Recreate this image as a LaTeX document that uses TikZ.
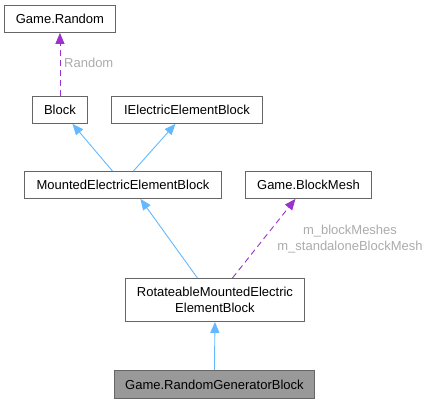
\documentclass[tikz,border=0pt]{standalone}
\usepackage{fontspec}
\setmainfont{Liberation Sans}
\usetikzlibrary{arrows.meta}
\definecolor{edgeblue}{HTML}{63B8FF}
\definecolor{edgepurple}{HTML}{9A32CD}
\definecolor{boxborder}{HTML}{666666}
\definecolor{lblgray}{HTML}{ABABAB}
\definecolor{curfill}{HTML}{999999}
\tikzset{
  cls/.style={draw=boxborder, line width=0.9pt, fill=white, inner sep=0pt, anchor=north west, font=\fontsize{13}{15.5}\selectfont, align=center},
  curcls/.style={cls, fill=curfill},
  inherit/.style={draw=edgeblue, line width=0.9pt, -{Triangle[length=11pt,width=9pt]}},
  uses/.style={draw=edgepurple, line width=0.9pt, dash pattern=on 6pt off 4pt, -{Triangle[length=11pt,width=9pt]}},
  lbl/.style={text=lblgray, font=\fontsize{13}{16}\selectfont, align=center, inner sep=0pt}
}
\begin{document}
\begin{tikzpicture}[x=1pt,y=-1pt]
\useasboundingbox (0,0) rectangle (429,403);
\node[cls, minimum width=111pt, minimum height=27pt] (gr) at (4,5) {Game.Random};
\node[cls, minimum width=55pt, minimum height=27pt] (blk) at (32,96) {Block};
\node[cls, minimum width=151pt, minimum height=27pt] (iel) at (111,96) {IElectricElementBlock};
\node[cls, minimum width=197pt, minimum height=27pt] (mee) at (24,171) {MountedElectricElementBlock};
\node[cls, minimum width=126pt, minimum height=27pt] (bm) at (245,171) {Game.BlockMesh};
\node[cls, minimum width=179pt, minimum height=43pt] (rot) at (125,278) {RotateableMountedElectric\\ElementBlock};
\node[curcls, minimum width=200pt, minimum height=28pt] (rgb) at (114,370) {Game.RandomGeneratorBlock};

\draw[uses] (blk.north) -- (gr.south);
\node[lbl, anchor=west] (lr) at (64,63) {Random};
\draw[inherit] ([xshift=-10.5pt]mee.north) -- ([xshift=12.5pt]blk.south);
\draw[inherit] ([xshift=10.5pt]mee.north) -- ([xshift=-11.5pt]iel.south);
\draw[inherit] ([xshift=-17.5pt]rot.north) -- ([xshift=17.5pt]mee.south);
\draw[uses] ([xshift=17.5pt]rot.north) -- ([xshift=-13pt]bm.south);
\node[lbl] (lm) at (350,239) {m\_blockMeshes\\m\_standaloneBlockMesh};
\draw[inherit] (rgb.north) -- (rot.south);
\end{tikzpicture}
\end{document}
